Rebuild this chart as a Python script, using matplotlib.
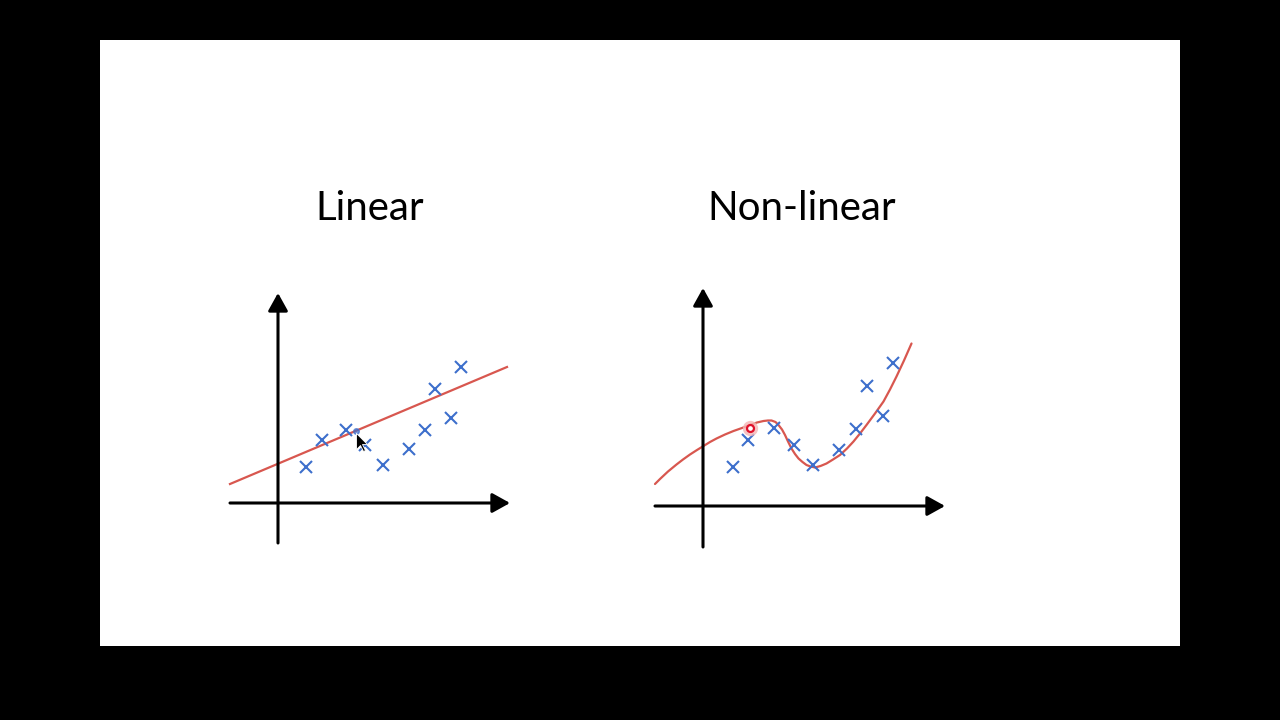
import matplotlib
matplotlib.use("Agg")
import matplotlib.pyplot as plt
from matplotlib.patches import Rectangle

# ---------------- DATA ----------------
# units: 1 = 50 px, origin at the axes crossing
lin_x = [0.56, 0.88, 1.36, 1.74, 2.10, 2.62, 2.94, 3.14, 3.46, 3.66]
lin_y = [0.72, 1.26, 1.46, 1.16, 0.76, 1.08, 1.46, 2.28, 1.70, 2.72]
lin_fit_x = [-0.96, 4.58]
lin_fit_y = [0.38, 2.72]

nl_x = [0.60, 0.90, 1.42, 1.82, 2.20, 2.72, 3.06, 3.28, 3.60, 3.80]
nl_y = [0.78, 1.32, 1.56, 1.22, 0.82, 1.12, 1.54, 2.40, 1.80, 2.86]
nl_fit_x = [-0.96, -0.86, -0.70, -0.53, -0.40, -0.26, -0.12, 0.01, 0.14, 0.27,
            0.44, 0.61, 0.78, 0.94, 1.08, 1.21, 1.30, 1.37, 1.45, 1.51, 1.58,
            1.64, 1.70, 1.77, 1.84, 1.91, 1.99, 2.07, 2.15, 2.24, 2.35, 2.47,
            2.60, 2.74, 2.88, 3.01, 3.14, 3.27, 3.44, 3.61, 3.74, 3.87, 4.02,
            4.17]
nl_fit_y = [0.44, 0.54, 0.69, 0.83, 0.93, 1.03, 1.12, 1.20, 1.28, 1.35,
            1.43, 1.50, 1.56, 1.62, 1.67, 1.70, 1.71, 1.71, 1.68, 1.62, 1.53,
            1.42, 1.29, 1.15, 1.04, 0.95, 0.88, 0.82, 0.79, 0.77, 0.80, 0.85,
            0.93, 1.02, 1.15, 1.29, 1.45, 1.62, 1.85, 2.09, 2.33, 2.59, 2.91,
            3.25]

titles = ["Linear", "Non-linear"]

BLUE = "#3d6fcc"
RED = "#d8574f"

W, H = 1280, 720
fig = plt.figure(figsize=(12.8, 7.2), dpi=100, facecolor="black")

# white slide
fig.patches.append(Rectangle((100 / W, 1 - 646 / H), 1080 / W, 606 / H,
                             transform=fig.transFigure, facecolor="white",
                             edgecolor="none", zorder=-5))


def make_panel(left_px, bottom_px, xlim, ylim, x_axis, y_axis):
    w = (xlim[1] - xlim[0]) * 50
    h = (ylim[1] - ylim[0]) * 50
    ax = fig.add_axes([left_px / W, bottom_px / H, w / W, h / H])
    ax.set_xlim(*xlim)
    ax.set_ylim(*ylim)
    ax.axis("off")
    ax.patch.set_alpha(0)
    arrow = dict(arrowstyle="-|>,head_length=0.45,head_width=0.25", lw=2.2,
                 color="black", mutation_scale=24, shrinkA=0, shrinkB=0)
    ax.annotate("", xy=(x_axis[1], 0), xytext=(x_axis[0], 0), arrowprops=arrow)
    ax.annotate("", xy=(0, y_axis[1]), xytext=(0, y_axis[0]), arrowprops=arrow)
    return ax


# mouse pointer shape, tip at the origin
cursor = [(0, 0), (0, -16), (4, -12), (7, -18), (9, -17), (6, -11), (11, -11), (0, 0)]

# Linear panel: origin at (278, 503) px
ax1 = make_panel(218, 167, (-1.2, 4.9), (-1.0, 4.4), (-0.96, 4.64), (-0.80, 4.20))
ax1.plot(lin_fit_x, lin_fit_y, color=RED, lw=1.6, zorder=2)
ax1.plot(lin_x, lin_y, "x", color=BLUE, ms=8.5, mew=1.5, zorder=3)
ax1.plot([1.56], [1.44], "o", color=BLUE, ms=4, alpha=0.7, zorder=4)
ax1.plot([1.56], [1.40], marker=cursor, ms=26, mfc="black", mec="white",
         mew=0.6, zorder=5)

# Non-linear panel: origin at (703, 506) px
ax2 = make_panel(643, 164, (-1.2, 5.0), (-1.0, 4.6), (-0.96, 4.84), (-0.82, 4.36))
ax2.plot(nl_fit_x, nl_fit_y, color=RED, lw=1.6, zorder=2,
         solid_joinstyle="round", solid_capstyle="round")
ax2.plot(nl_x, nl_y, "x", color=BLUE, ms=8.5, mew=1.5, zorder=3)
ax2.plot([0.94], [1.57], "o", color="#f4b6b6", ms=11, mew=0, alpha=0.8, zorder=4)
ax2.plot([0.94], [1.57], "o", mfc="white", mec="#e0102a", ms=5, mew=1.6, zorder=5)

# titles
fig.text(370 / W, 1 - 208 / H, titles[0], ha="center", va="center",
         fontsize=29, family="Lato", color="black")
fig.text(802 / W, 1 - 208 / H, titles[1], ha="center", va="center",
         fontsize=29, family="Lato", color="black")

fig.savefig("out.png", dpi=100, facecolor="black")
